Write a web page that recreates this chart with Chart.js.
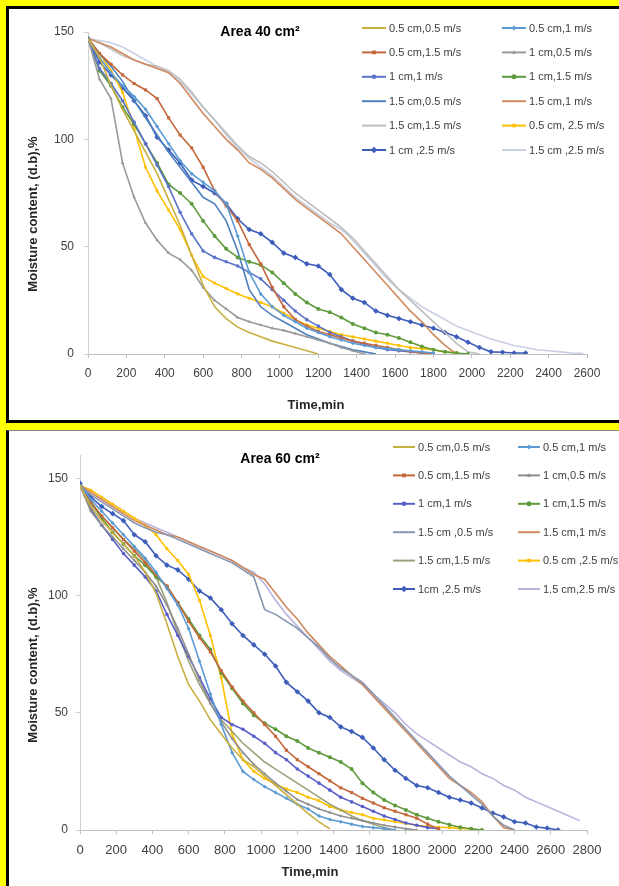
<!DOCTYPE html>
<html>
<head>
<meta charset="utf-8">
<script src="https://cdn.jsdelivr.net/npm/chart.js"></script>
<style>
html, body { margin: 0; padding: 0; width: 619px; height: 886px; overflow: hidden; background: #ffff00; }
.panel { position: absolute; background: #fff; box-sizing: border-box; }
#p40 { left: 6px; top: 6px; width: 650px; height: 417px; border: 3px solid #000; }
#p60 { left: 6px; top: 430px; width: 650px; height: 470px; border-left: 3px solid #000; border-top: 1px solid #888; }
canvas { position: absolute; }
#c40 { left: 9px; top: 9px; }
#c60 { left: 9px; top: 432px; }
</style>
</head>
<body>
<div class="panel" id="p40"></div>
<div class="panel" id="p60"></div>
<canvas id="c40" width="610" height="410"></canvas>
<canvas id="c60" width="610" height="454"></canvas>
<script>
// temps (min), pas de 60 min
var timeMin = [0, 60, 120, 180, 240, 300, 360, 420, 480, 540, 600, 660, 720, 780, 840, 900,
  960, 1020, 1080, 1140, 1200, 1260, 1320, 1380, 1440, 1500, 1560, 1620, 1680, 1740, 1800,
  1860, 1920, 1980, 2040, 2100, 2160, 2220, 2280, 2340, 2400, 2460, 2520, 2580, 2640, 2700, 2760];

var seriesLabels40 = ['0.5 cm,0.5 m/s', '0.5 cm,1 m/s', '0.5 cm,1.5 m/s', '1 cm,0.5 m/s',
  '1 cm,1 m/s', '1 cm,1.5 m/s', '1.5 cm,0.5 m/s', '1.5 cm,1 m/s', '1.5 cm,1.5 m/s',
  '0.5 cm, 2.5 m/s', '1 cm ,2.5 m/s', '1.5 cm ,2.5 m/s'];
var seriesLabels60 = ['0.5 cm,0.5 m/s', '0.5 cm,1 m/s', '0.5 cm,1.5 m/s', '1 cm,0.5 m/s',
  '1 cm,1 m/s', '1 cm,1.5 m/s', '1.5 cm ,0.5 m/s', '1.5 cm,1 m/s', '1.5 cm,1.5 m/s',
  '0.5 cm ,2.5 m/s', '1cm ,2.5 m/s', '1.5 cm,2.5 m/s'];

var xTicks40 = [0, 200, 400, 600, 800, 1000, 1200, 1400, 1600, 1800, 2000, 2200, 2400, 2600];
var xTicks60 = [0, 200, 400, 600, 800, 1000, 1200, 1400, 1600, 1800, 2000, 2200, 2400, 2600, 2800];
var yTicks = [0, 50, 100, 150];

// Area 40 cm2 - moisture content (d.b) %
var a40s1 = [147, 138, 125, 114, 104, 94, 84, 72, 60, 46, 32, 22, 16.5, 12.5, 10, 8, 6, 4.5, 3, 1.5, 0];
var a40s2 = [147, 138, 131, 125, 120, 114, 106, 98, 90, 84, 80, 76, 70, 55, 38, 28, 22, 18, 15, 12, 10, 8, 6.5, 5, 4, 3, 2.5, 2, 1.5, 1, 0.5];
var a40s3 = [147, 140, 135, 130, 126, 123, 119, 110, 102, 96, 87, 76, 69, 62, 51, 42, 31, 22, 16, 13, 10.5, 9, 7.5, 6, 5, 4, 3, 2, 1.2, 0.5, 0];
var a40s4 = [147, 128, 119, 89, 73, 61, 53, 47, 44, 39, 31, 25, 21, 17, 15, 13.5, 12, 11, 9.5, 8, 6.5, 5, 3, 1.5, 0];
var a40s5 = [147, 133, 126, 118, 108, 98, 88, 78, 66, 56, 48, 45, 43, 41, 38, 35, 30, 25, 20, 16, 13, 10, 8, 6, 4.5, 3, 2, 1.5, 1, 0.5];
var a40s6 = [147, 132, 125, 115, 107, 98, 89, 79, 75, 70, 62, 55, 49, 45, 43, 41.5, 38, 33, 28, 24, 21, 19.5, 17, 14, 12, 10, 9, 7.5, 5.5, 3.5, 2, 1, 0.5, 0];
var a40s7 = [147, 140, 134, 127, 118, 110, 102, 94, 87, 80, 73, 70, 62, 48, 30, 22, 18, 15, 12, 9, 7, 5, 3.5, 2, 1, 0];
var a40s8 = [147, 145, 143, 140, 137, 135, 133, 131, 126, 119, 112, 106, 100, 95, 89, 86, 82, 77, 72, 68, 64, 60, 56, 50, 44, 38, 32, 26, 20, 15, 9, 4, 0];
var a40s9 = [147, 145, 142, 139, 137, 135, 134, 132, 128, 122, 115, 109, 103, 97, 92, 89, 85, 80, 75, 71, 67, 63, 59, 54, 48, 42, 36, 30, 25, 20, 15, 10, 5, 1, 0];
var a40s10 = [147, 140, 132, 122, 105, 87, 76, 67, 58, 46, 36, 33, 30.5, 28, 26, 24, 22, 19, 16, 13.5, 12, 10.5, 9, 8, 7, 6, 5, 4, 3, 2.5, 2, 1, 0.5];
var a40s11 = [147, 136, 130, 124, 118, 111, 101, 95, 89, 81, 78, 75, 70, 63, 58, 56, 52, 47, 45, 42, 41, 37, 30, 26, 24, 20, 18, 16.5, 15, 13.5, 12, 10, 8, 5.5, 3, 1, 0.8, 0.5, 0.5];
var a40s12 = [147, 146, 145, 143, 140, 137, 134, 131, 127, 121, 115, 109, 102, 96, 91, 87, 83, 78, 73, 69, 65, 61, 58, 53, 47, 41, 35, 30, 26, 22, 19, 16, 13, 11, 9, 7, 5.5, 4, 3, 2, 1.5, 1, 0.5, 0.2];

// Area 60 cm2
var a60s1 = [147, 138, 132, 127, 122, 117, 110, 101, 88, 74, 62, 55, 47, 41, 35, 30, 27, 23, 19, 15, 11, 7, 3.5, 0.5];
var a60s2 = [147, 141, 136, 131, 126, 121, 116, 110, 103, 96, 86, 72, 58, 45, 33, 25, 21.5, 18.5, 16, 13.5, 11, 9, 6, 4.5, 3.5, 2.5, 1.5, 1, 0.5, 0];
var a60s3 = [147, 140, 134, 129, 124, 119, 114, 109, 104, 97, 89, 82, 76, 68, 61, 55, 50, 45, 40, 34, 30, 27, 24, 21, 18, 16, 13.5, 11.5, 9.5, 8, 6.5, 5, 2.5, 0.5];
var a60s4 = [147, 136, 130, 125, 120, 115, 110, 104, 96, 86, 75, 64, 54, 46, 39, 33, 28, 24, 20, 16.5, 13, 11, 9, 7.5, 6, 5, 4, 3, 2, 1.3, 0.5, 0];
var a60s5 = [147, 137, 130, 124, 118, 113, 108, 102, 92, 83, 74, 65, 56, 48, 45, 43, 40, 37, 33, 30, 26, 23, 20, 17, 14, 12, 10, 8, 6, 4.5, 3, 2, 1, 0.5];
var a60s6 = [147, 140, 133, 127, 122, 117, 113, 108, 104, 97, 90, 83, 77, 67, 60.5, 54, 49, 45.5, 43, 40, 38, 35, 33, 31, 29, 26, 20, 16, 12.8, 10.5, 8.5, 6.5, 5, 3.5, 2.2, 1.2, 0.5, 0];
var a60s7 = [147, 143, 140, 137, 134, 131, 129, 127, 126, 124, 122, 120, 118, 116, 114, 111, 108, 94, 92, 89, 86, 82, 78, 73, 69, 66, 63, 58, 53, 48, 43, 38, 33, 28, 23, 19, 15, 11, 6, 2, 0];
var a60s8 = [147, 144, 141, 138, 135, 132, 130, 128, 126, 125, 123, 121, 119, 117, 115, 112, 109, 107, 101, 95, 90, 84, 79, 74, 70, 66, 62, 57, 52, 47, 42, 37, 32, 27, 22, 19, 16, 12, 6, 1, 0];
var a60s9 = [147, 139, 134, 129, 124, 120, 115, 108, 97, 84, 72, 62, 54, 47, 42, 37, 33, 29, 26, 23, 20, 17, 14, 11, 8.5, 6, 4, 2.5, 1, 0];
var a60s10 = [147, 145, 142, 139, 136, 133, 130, 126, 120, 115, 109, 98, 83, 65, 41, 30, 25, 22, 19.5, 17.5, 16, 14, 12.5, 10, 8.5, 7.5, 6.5, 5, 4.3, 3.5, 2.8, 2, 1.5, 1.2, 1, 0.7, 0.4, 0];
var a60s11 = [148, 142, 138, 135, 132, 126, 123, 117, 113, 111, 107, 102, 99, 94, 88, 83, 79, 75, 70, 63, 59, 55, 50, 48, 44, 42, 39.5, 35, 30, 25.5, 22, 19, 18, 16, 14, 12.8, 11.5, 9.4, 7.2, 5.6, 3.5, 3, 1.3, 0.8, 0];
var a60s12 = [147, 145, 142, 139, 136, 133, 131, 129, 127, 125, 123, 121, 119, 117, 115, 112, 110, 105, 98, 92, 87, 82, 77, 72, 68, 65, 62, 58, 54, 50, 45, 41, 38, 35, 32, 29, 27, 24, 22, 19, 17, 14, 12, 10, 8, 6, 4];

var values40 = [a40s1, a40s2, a40s3, a40s4, a40s5, a40s6, a40s7, a40s8, a40s9, a40s10, a40s11, a40s12];
var values60 = [a60s1, a60s2, a60s3, a60s4, a60s5, a60s6, a60s7, a60s8, a60s9, a60s10, a60s11, a60s12];

// styles
var colors40 = ['#c8b040', '#5b9bd5', '#c4683c', '#9a9a9a', '#5a73c8', '#5e9b3c',
  '#4f81bd', '#d08a60', '#bdbdbd', '#ffc000', '#3c5dba', '#c8cfe0'];
var colors60 = ['#c8b040', '#5b9bd5', '#c4683c', '#8e8e8e', '#5a5fc8', '#5e9b3c',
  '#8496b0', '#d08a60', '#9aa27a', '#ffc000', '#3c5dba', '#bcb3dc'];
var markers = ['circle', 'rectRot', 'rect', 'triangle', 'circle', 'circle',
  'circle', 'circle', 'circle', 'rect', 'rectRot', 'circle'];
var markerSize = [0, 2, 2.2, 2, 1.8, 2, 0, 0, 0, 2, 2.8, 0];

var FONT = '"Liberation Sans", Arial, sans-serif';

// titre, titres d'axes et legende en deux colonnes (comme dans Excel)
var overlay = {
    id: 'overlay',
    afterDraw: function(chart, args, o) {
        var ctx = chart.ctx;
        ctx.save();
        ctx.fillStyle = '#000';
        ctx.font = 'bold 14px ' + FONT;
        ctx.textAlign = 'center';
        ctx.textBaseline = 'middle';
        ctx.fillText(o.title, o.titleX, o.titleY);

        ctx.fillStyle = '#262626';
        ctx.font = 'bold 13px ' + FONT;
        ctx.fillText('Time,min', o.xTitle[0], o.xTitle[1]);
        ctx.save();
        ctx.translate(o.yTitle[0], o.yTitle[1]);
        ctx.rotate(-Math.PI / 2);
        ctx.fillText('Moisture content, (d.b),%', 0, 0);
        ctx.restore();

        ctx.font = '11px ' + FONT;
        ctx.textAlign = 'left';
        chart.data.datasets.forEach(function(ds, i) {
            var x = o.legX[i % 2];
            var y = o.legY + Math.floor(i / 2) * o.legStep;
            ctx.strokeStyle = ds.borderColor;
            ctx.lineWidth = 2;
            ctx.beginPath();
            ctx.moveTo(x, y);
            ctx.lineTo(x + o.lineLen, y);
            ctx.stroke();
            if (ds.pointRadius > 0) {
                ctx.fillStyle = ds.borderColor;
                Chart.helpers.drawPoint(ctx, { pointStyle: ds.pointStyle, radius: ds.pointRadius + 0.5, borderWidth: 0, rotation: 0 }, x + o.lineLen / 2, y);
            }
            ctx.fillStyle = '#404040';
            ctx.fillText(ds.label, x + o.lineLen + 3, y + 0.5);
        });
        ctx.restore();
    }
};

function makeChart(id, labels, values, colors, xTicks, xMax, yMax, cfg) {
    var datasets = values.map(function(vals, i) {
        return {
            label: labels[i],
            data: vals.map(function(v, k) { return { x: timeMin[k], y: v }; }),
            borderColor: colors[i],
            backgroundColor: colors[i],
            borderWidth: 1.6,
            pointStyle: markers[i],
            pointRadius: markerSize[i],
            pointBorderWidth: 0,
            pointBackgroundColor: colors[i],
            tension: 0,
            fill: false
        };
    });
    return new Chart(document.getElementById(id).getContext('2d'), {
        type: 'line',
        data: { datasets: datasets },
        plugins: [overlay],
        options: {
            responsive: false,
            animation: false,
            devicePixelRatio: 1,
            layout: { padding: { left: 0, right: 32, top: 23, bottom: 0 } },
            plugins: {
                legend: { display: false },
                tooltip: { enabled: false },
                overlay: cfg.overlay
            },
            scales: {
                x: {
                    type: 'linear', min: 0, max: xMax,
                    afterBuildTicks: function(s) { s.ticks = xTicks.map(function(v) { return { value: v }; }); },
                    afterFit: function(s) { s.height = cfg.xHeight; },
                    grid: { drawOnChartArea: false, drawTicks: true, tickLength: 4, color: '#bfbfbf' },
                    border: { color: '#bfbfbf' },
                    ticks: {
                        padding: cfg.xPad, color: '#404040', maxRotation: 0, autoSkip: false,
                        font: { size: cfg.xFont, family: FONT },
                        callback: function(v) { return String(v); }
                    }
                },
                y: {
                    min: 0, max: yMax,
                    afterBuildTicks: function(s) { s.ticks = yTicks.map(function(v) { return { value: v }; }); },
                    afterFit: function(s) { s.width = cfg.yWidth; },
                    grid: { drawOnChartArea: false, drawTicks: true, tickLength: 4, color: '#d0d0d0' },
                    border: { color: '#d0d0d0' },
                    ticks: { padding: cfg.yPad, color: '#404040', font: { size: 12, family: FONT } }
                }
            }
        }
    });
}

document.addEventListener('DOMContentLoaded', function() {
    makeChart('c40', seriesLabels40, values40, colors40, xTicks40, 2600, 150, {
        xHeight: 65, xPad: 8, xFont: 12, yWidth: 79, yPad: 10,
        overlay: { title: 'Area 40 cm²', titleX: 251, titleY: 23, xTitle: [307, 396], yTitle: [24, 205],
                   legX: [353, 493], legY: 19, legStep: 24.4, lineLen: 24 }
    });
    makeChart('c60', seriesLabels60, values60, colors60, xTicks60, 2800, 160, {
        xHeight: 56, xPad: 9, xFont: 13, yWidth: 71, yPad: 8,
        overlay: { title: 'Area 60 cm²', titleX: 271, titleY: 27, xTitle: [301, 440], yTitle: [24, 233],
                   legX: [384, 509], legY: 15, legStep: 28.4, lineLen: 22 }
    });
});
</script>
</body>
</html>
